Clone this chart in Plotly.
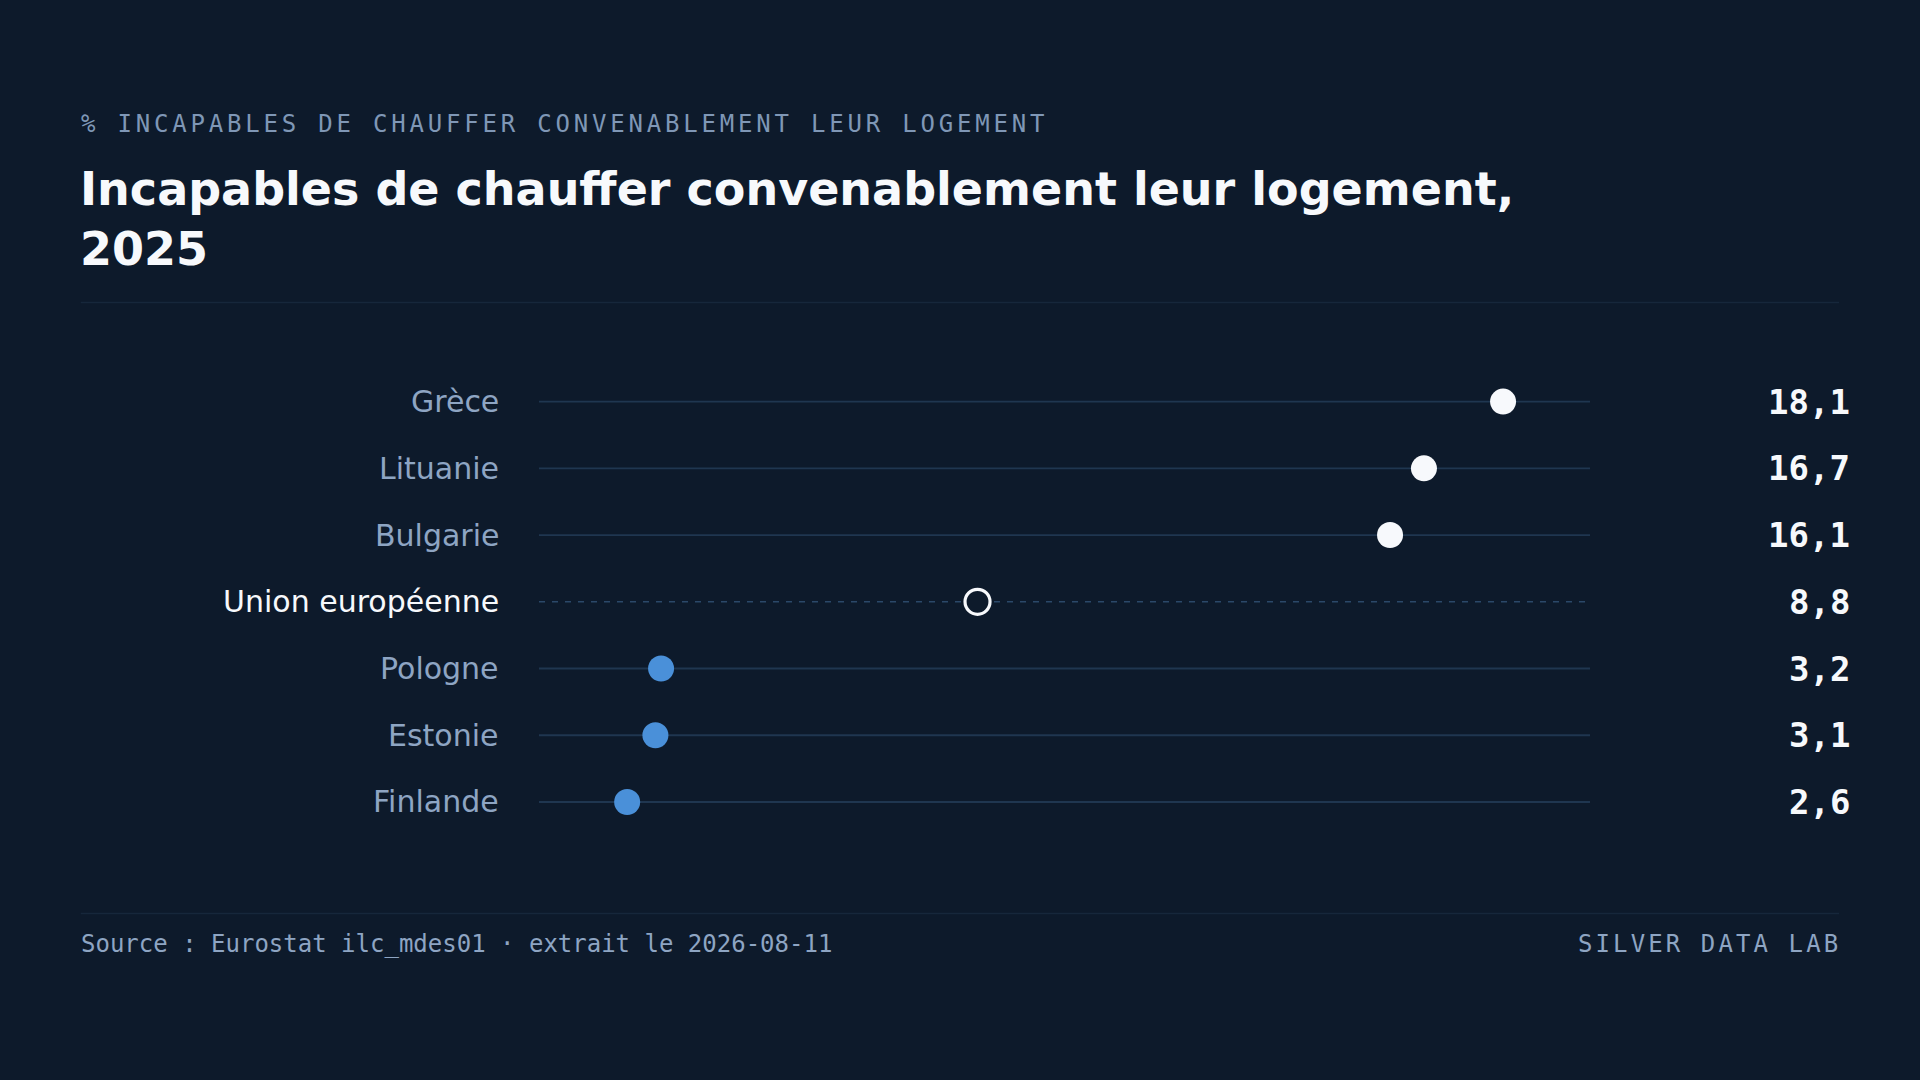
import plotly.graph_objects as go

# ---- data ----
countries = ["Grèce", "Lituanie", "Bulgarie", "Union européenne", "Pologne", "Estonie", "Finlande"]
values = [18.1, 16.7, 16.1, 8.8, 3.2, 3.1, 2.6]
eu_name = "Union européenne"

kicker = "% INCAPABLES DE CHAUFFER CONVENABLEMENT LEUR LOGEMENT"
title_lines = ["Incapables de chauffer convenablement leur logement,", "2025"]
source_text = "Source : Eurostat ilc_mdes01 · extrait le 2026-08-11"
brand_text = "SILVER DATA LAB"

# ---- style ----
W, H = 1920, 1080
BG = "#0d1a2b"
WHITE = "#f7f9fc"
BLUE = "#4a90d9"
LABEL = "#8ea5c3"
MUTED = "#7f97b6"
ROW_LINE = "#1f3650"
EU_LINE = "#2b4869"
RULE = "#16273b"
SANS = "DejaVu Sans, Noto Sans, sans-serif"
MONO = "DejaVu Sans Mono, Liberation Mono, monospace"

n = len(countries)
ypos = list(range(n))
eu_val = values[countries.index(eu_name)]

# pixel layout
plot_x0, plot_x1 = 539, 1590
row0_px, step_px = 401.6, 66.73
top_px = row0_px - 0.5 * step_px
bot_px = row0_px + (n - 0.5) * step_px

def px(x):
    return x / W

def py(y):
    return 1 - y / H

x_lo = min(values) * 0.4
x_hi = max(values) * 1.085

fig = go.Figure()

hi_idx = [i for i, c in enumerate(countries) if c != eu_name and values[i] > eu_val]
lo_idx = [i for i, c in enumerate(countries) if c != eu_name and values[i] <= eu_val]
eu_idx = [countries.index(eu_name)]

fig.add_trace(go.Scatter(
    x=[values[i] for i in hi_idx], y=[ypos[i] for i in hi_idx], mode="markers",
    marker=dict(size=26, color=WHITE, line=dict(width=0)), cliponaxis=False,
    hoverinfo="skip", showlegend=False))
fig.add_trace(go.Scatter(
    x=[values[i] for i in lo_idx], y=[ypos[i] for i in lo_idx], mode="markers",
    marker=dict(size=26, color=BLUE, line=dict(width=0)), cliponaxis=False,
    hoverinfo="skip", showlegend=False))
fig.add_trace(go.Scatter(
    x=[values[i] for i in eu_idx], y=[ypos[i] for i in eu_idx], mode="markers",
    marker=dict(size=25, color=BG, line=dict(width=3.2, color=WHITE)), cliponaxis=False,
    hoverinfo="skip", showlegend=False))

shapes = []
for i, c in enumerate(countries):
    if c == eu_name:
        shapes.append(dict(type="line", xref="x domain", yref="y", x0=0, x1=1, y0=ypos[i], y1=ypos[i],
                           line=dict(color=EU_LINE, width=1.6, dash="6px,7px"), layer="below"))
    else:
        shapes.append(dict(type="line", xref="x domain", yref="y", x0=0, x1=1, y0=ypos[i], y1=ypos[i],
                           line=dict(color=ROW_LINE, width=1.8), layer="below"))
# rules
shapes.append(dict(type="line", xref="paper", yref="paper", x0=px(80.8), x1=px(1839), y0=py(302.5), y1=py(302.5),
                   line=dict(color=RULE, width=1.6)))
shapes.append(dict(type="line", xref="paper", yref="paper", x0=px(80.8), x1=px(1839), y0=py(913.5), y1=py(913.5),
                   line=dict(color=RULE, width=1.6)))

annotations = []
for i, c in enumerate(countries):
    annotations.append(dict(
        text=c, xref="paper", yref="y", x=px(501), y=ypos[i], xanchor="right", yanchor="middle",
        showarrow=False, font=dict(family=SANS, size=30, color=WHITE if c == eu_name else LABEL)))
    annotations.append(dict(
        text=f"{values[i]:.1f}".replace(".", ","), xref="paper", yref="y", x=px(1852), y=ypos[i],
        xanchor="right", yanchor="middle", showarrow=False,
        font=dict(family=MONO, size=34, color=WHITE, weight="bold")))

annotations.append(dict(
    text=f'<span style="letter-spacing:3.8px">{kicker}</span>', xref="paper", yref="paper",
    x=px(79), y=py(124), xanchor="left", yanchor="middle", showarrow=False,
    font=dict(family=MONO, size=24, color=MUTED)))
annotations.append(dict(
    text="<br>".join(title_lines), xref="paper", yref="paper", x=px(78), y=py(219), xanchor="left",
    yanchor="middle", align="left", showarrow=False,
    font=dict(family=SANS, size=46, color=WHITE, weight="bold")))
annotations.append(dict(
    text=source_text, xref="paper", yref="paper", x=px(79), y=py(944), xanchor="left", yanchor="middle",
    showarrow=False, font=dict(family=MONO, size=24, color=LABEL)))
annotations.append(dict(
    text=f'<span style="letter-spacing:3.1px">{brand_text}</span>', xref="paper", yref="paper",
    x=px(1843), y=py(944), xanchor="right", yanchor="middle",
    showarrow=False, font=dict(family=MONO, size=24, color=LABEL)))

fig.update_layout(
    width=W, height=H, margin=dict(l=0, r=0, t=0, b=0),
    paper_bgcolor=BG, plot_bgcolor=BG,
    xaxis=dict(domain=[px(plot_x0), px(plot_x1)], range=[x_lo, x_hi], visible=False, fixedrange=True),
    yaxis=dict(domain=[py(bot_px), py(top_px)], range=[n - 0.5, -0.5], visible=False, fixedrange=True),
    shapes=shapes, annotations=annotations, showlegend=False,
)

fig.write_html(
    "out.html",
    config={"displayModeBar": False},
    post_script=(
        "document.documentElement.style.margin='0';document.documentElement.style.padding='0';"
        "document.body.style.margin='0';document.body.style.padding='0';"
        "document.body.style.background='" + BG + "';document.body.style.overflow='hidden';"
    ),
)
